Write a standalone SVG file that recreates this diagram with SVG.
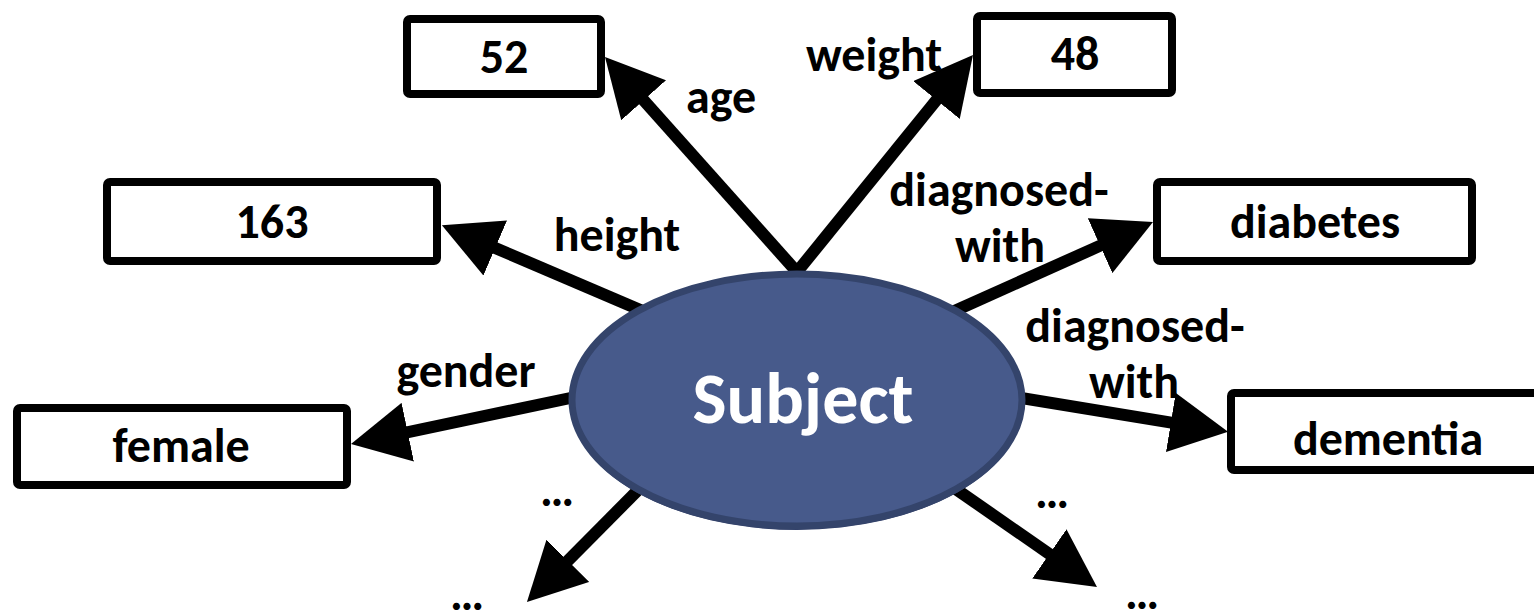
<svg xmlns="http://www.w3.org/2000/svg" width="1534" height="613" viewBox="0 0 1534 613">
<style>
.box{fill:#fff;stroke:#000;stroke-width:8}
.t{font-family:Calibri,Carlito,Lato,"Liberation Sans",sans-serif;font-weight:bold;font-size:48px;fill:#000;text-anchor:middle}
.edge{stroke:#000;stroke-width:12;fill:none;marker-end:url(#ah)}
.subj{font-family:Calibri,Carlito,Lato,"Liberation Sans",sans-serif;font-weight:bold;font-size:72px;fill:#fff;text-anchor:middle}
</style>
<defs>
<marker id="ah" markerUnits="userSpaceOnUse" viewBox="0 0 58 60" markerWidth="58" markerHeight="60" refX="2" refY="30" orient="auto">
<path d="M0,0 L58,30 L0,60 Z" fill="#000"/>
</marker>
</defs>
<rect width="1534" height="613" fill="#fff"/>
<g id="connectors">
<line class="edge" x1="797" y1="272" x2="642.3" y2="98.8"/>
<line class="edge" x1="797" y1="272" x2="937.7" y2="98.5"/>
<line class="edge" x1="645" y1="312" x2="493.4" y2="247.2"/>
<line class="edge" x1="580" y1="396" x2="405.8" y2="432.6"/>
<line class="edge" x1="950" y1="313" x2="1101.9" y2="244.9"/>
<line class="edge" x1="1015" y1="397" x2="1172.8" y2="422.8"/>
<line class="edge" x1="645" y1="483" x2="566.4" y2="562.2"/>
<line class="edge" x1="950" y1="485" x2="1051" y2="555.1"/>
<text class="t" x="721" y="113">age</text>
<text class="t" x="874" y="71">weight</text>
<text class="t" x="617" y="251">height</text>
<text class="t" x="466" y="387">gender</text>
<text class="t" x="999" y="206">diagnosed-</text>
<text class="t" x="1000" y="262">with</text>
<text class="t" x="1135" y="342">diagnosed-</text>
<text class="t" x="1134" y="398">with</text>
<text class="t" x="557" y="506">…</text>
<text class="t" x="467" y="610">…</text>
<text class="t" x="1052" y="508">…</text>
<text class="t" x="1142" y="609">…</text>
</g>
<g id="subject">
<ellipse cx="797" cy="403" rx="226" ry="127" fill="#33416a"/>
<ellipse cx="797" cy="400" rx="225" ry="126" fill="#475a8b" stroke="#34446b" stroke-width="7"/>
<text class="subj" x="803" y="423">Subject</text>
</g>
<g id="n52"><rect class="box" x="407" y="19" width="194" height="75" rx="3"/><text class="t" x="504" y="73">52</text></g>
<g id="n48"><rect class="box" x="977" y="16" width="195" height="77" rx="3"/><text class="t" x="1075" y="70">48</text></g>
<g id="n163"><rect class="box" x="107" y="182" width="330" height="79" rx="3"/><text class="t" x="272" y="238">163</text></g>
<g id="nfemale"><rect class="box" x="17" y="408" width="330" height="77" rx="3"/><text class="t" x="181" y="462">female</text></g>
<g id="ndiabetes"><rect class="box" x="1157" y="182" width="315" height="79" rx="3"/><text class="t" x="1315" y="238">diabetes</text></g>
<g id="ndementia"><rect class="box" x="1231" y="393" width="318" height="77" rx="3"/><text class="t" x="1388" y="455">dementia</text></g>
</svg>
